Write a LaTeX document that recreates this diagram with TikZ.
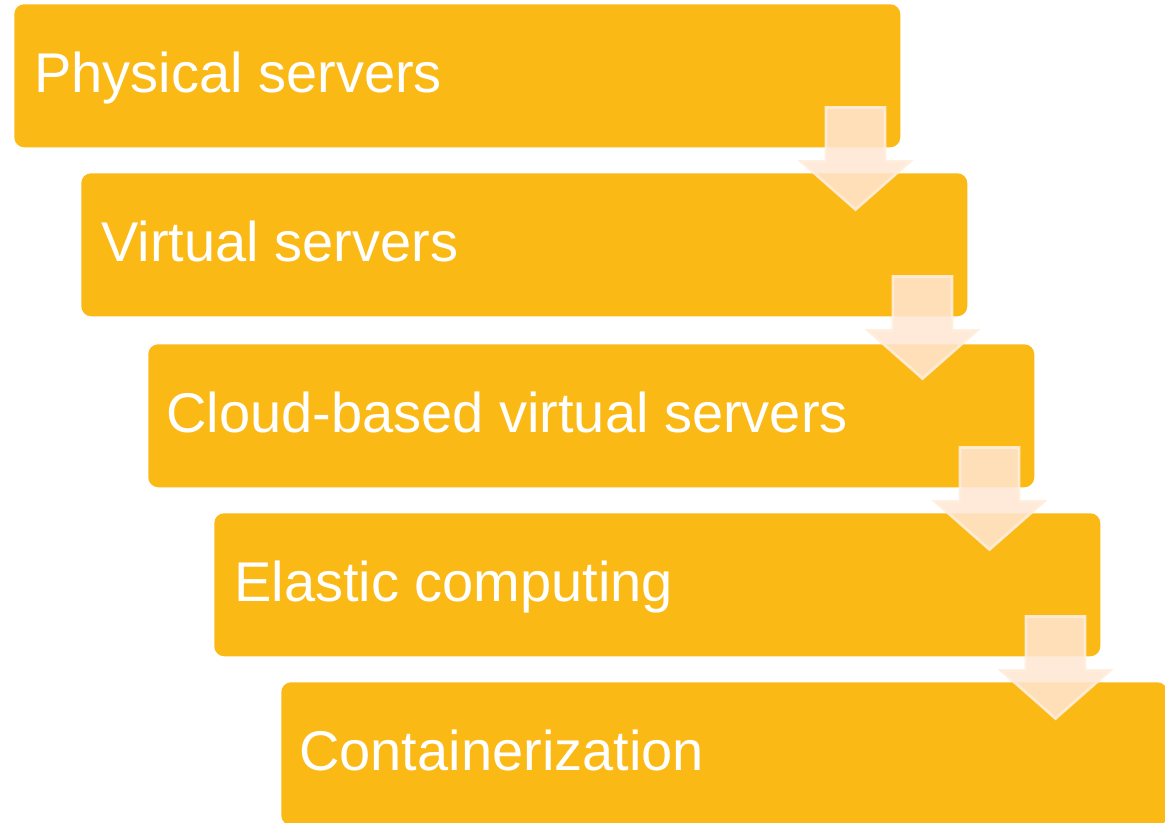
\documentclass[tikz,border=0pt]{standalone}
\usepackage{fontspec}
\setmainfont{Liberation Sans}
\usetikzlibrary{calc}
\definecolor{boxorange}{HTML}{FBB916}
\definecolor{arrowfill}{HTML}{FFE6D3}
\definecolor{arrowline}{HTML}{FFEEDD}
\newcommand\drawstepflow[1]{%
  \path[flowarrow]
    ($(#1.south east)+(-74.5,-40)$) --
    ($(#1.south east)+(-15.5,-40)$) --
    ($(#1.south east)+(-15.5,14)$) --
    ($(#1.south east)+(9.5,14)$) --
    ($(#1.south east)+(-45,62)$) --
    ($(#1.south east)+(-99.5,14)$) --
    ($(#1.south east)+(-74.5,14)$) -- cycle;}
\begin{document}
\begin{tikzpicture}[x=0.75pt,y=-0.75pt,
  stepbox/.style={fill=boxorange, draw=none, rounded corners=7.5pt,
    minimum width=664.5pt, minimum height=107.25pt, anchor=north west, inner sep=0pt},
  steplabel/.style={text=white, font=\fontsize{42pt}{50pt}\selectfont,
    anchor=base west, inner sep=0pt},
  flowarrow/.style={fill=arrowfill, fill opacity=0.86, draw=arrowline,
    draw opacity=0.9, line width=2pt, line join=miter}]
\useasboundingbox (0,0) rectangle (1165,822);
\fill[white] (0,0) rectangle (1165,822);
\node[stepbox] (b1) at (14,4) {};
\node[stepbox] (b2) at (81,173) {};
\node[stepbox] (b3) at (148,344) {};
\node[stepbox] (b4) at (214,513) {};
\node[stepbox] (b5) at (281,682) {};
\node[steplabel] (t1) at ($(b1.north west)+(20,88)$) {Physical servers};
\node[steplabel] (t2) at ($(b2.north west)+(20,88)$) {Virtual servers};
\node[steplabel] (t3) at ($(b3.north west)+(18,88)$) {Cloud-based virtual servers};
\node[steplabel] (t4) at ($(b4.north west)+(20,88)$) {Elastic computing};
\node[steplabel] (t5) at ($(b5.north west)+(18,88)$) {Containerization};
\drawstepflow{b1}
\drawstepflow{b2}
\drawstepflow{b3}
\drawstepflow{b4}
\end{tikzpicture}
\end{document}
